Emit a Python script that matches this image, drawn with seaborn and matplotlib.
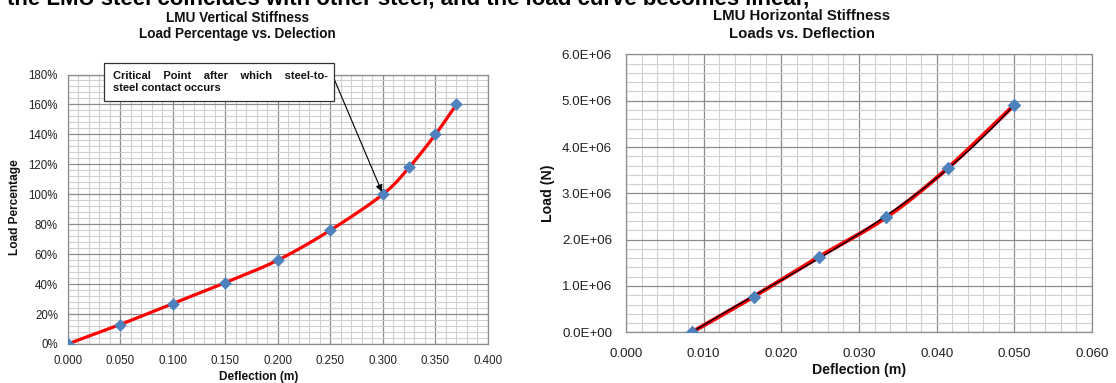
import numpy as np
import pandas as pd
import matplotlib
matplotlib.use("Agg")
import matplotlib.pyplot as plt
from matplotlib.ticker import MultipleLocator, PercentFormatter, FormatStrFormatter
import seaborn as sns

# Vertical stiffness: deflection (m) vs load percentage (%)
vert_deflection = [0.000, 0.050, 0.100, 0.150, 0.200, 0.250, 0.300, 0.325, 0.350, 0.370]
vert_load_pct = [0, 13, 27, 41, 56, 76, 100, 118, 140, 160]

# Horizontal stiffness: deflection (m) vs load (N)
horiz_deflection = [0.00845, 0.01643, 0.02488, 0.03346, 0.04140, 0.05000]
horiz_load = [0.0, 0.77e6, 1.63e6, 2.48e6, 3.54e6, 4.91e6]

title_left = ["LMU Vertical Stiffness", "Load Percentage vs. Delection"]
title_right = ["LMU Horizontal Stiffness", "Loads vs. Deflection"]
note_text = "Critical    Point    after    which    steel-to-\nsteel contact occurs"
header_text = "the LMU steel coincides with other steel, and the load curve becomes linear,"

RED = "#FF0000"
BLUE = "#4F81BD"
MAJOR = "#8C8C8C"
MINOR = "#D0D0D0"


def smooth_curve(x, y, n=30):
    """Catmull-Rom style smoothing for drawing a line through points."""
    x = np.asarray(x, float)
    y = np.asarray(y, float)
    px = np.concatenate([[2 * x[0] - x[1]], x, [2 * x[-1] - x[-2]]])
    py = np.concatenate([[2 * y[0] - y[1]], y, [2 * y[-1] - y[-2]]])
    xs, ys = [], []
    t = np.linspace(0, 1, n, endpoint=False)
    for i in range(1, len(px) - 2):
        for arr, out in ((px, xs), (py, ys)):
            p0, p1, p2, p3 = arr[i - 1], arr[i], arr[i + 1], arr[i + 2]
            out.extend(0.5 * ((2 * p1) + (-p0 + p2) * t
                              + (2 * p0 - 5 * p1 + 4 * p2 - p3) * t ** 2
                              + (-p0 + 3 * p1 - 3 * p2 + p3) * t ** 3))
    xs.append(x[-1])
    ys.append(y[-1])
    return np.array(xs), np.array(ys)


sns.set_theme(style="white")
plt.rcParams["font.family"] = ["Liberation Sans", "DejaVu Sans"]

fig = plt.figure(figsize=(11.16, 3.83), dpi=100)
W, H = 1116, 383


def px_axes(left, top, right, bottom):
    return fig.add_axes([left / W, 1 - bottom / H, (right - left) / W, (bottom - top) / H])


def style_grid(ax):
    ax.grid(which="major", color=MAJOR, linewidth=0.9)
    ax.grid(which="minor", color=MINOR, linewidth=0.8)
    ax.set_axisbelow(True)
    for s in ax.spines.values():
        s.set_color(MAJOR)
        s.set_linewidth(0.9)
    ax.tick_params(which="both", length=0)


# ---------------- left chart ----------------
axL = px_axes(67.7, 74.5, 488, 344)
dfL = pd.DataFrame({"x": vert_deflection, "y": vert_load_pct})
sx, sy = smooth_curve(dfL["x"], dfL["y"])
sns.lineplot(x=sx, y=sy, ax=axL, color=RED, linewidth=2.3, sort=False, estimator=None, zorder=3)
sns.scatterplot(data=dfL, x="x", y="y", ax=axL, marker="D", s=42, color=BLUE,
                edgecolor=BLUE, linewidth=0, zorder=4)
axL.set_xlim(0, 0.4)
axL.set_ylim(0, 180)
axL.xaxis.set_major_locator(MultipleLocator(0.05))
axL.xaxis.set_minor_locator(MultipleLocator(0.01))
axL.yaxis.set_major_locator(MultipleLocator(20))
axL.yaxis.set_minor_locator(MultipleLocator(4))
axL.xaxis.set_major_formatter(FormatStrFormatter("%.3f"))
axL.yaxis.set_major_formatter(PercentFormatter(100, decimals=0))
style_grid(axL)
axL.tick_params(axis="x", labelsize=8.3, pad=8, colors="#222222")
axL.tick_params(axis="y", labelsize=8.3, pad=7, colors="#222222")
axL.set_xlabel("")
axL.set_ylabel("")

fig.text(259 / W, 1 - 377 / H, "Deflection (m)", ha="center", va="center",
         fontsize=8.6, fontweight="bold", color="#111111")
fig.text(15 / W, 1 - 207 / H, "Load Percentage", ha="center", va="center",
         rotation=90, fontsize=8.6, fontweight="bold", color="#111111")
fig.text(237 / W, 1 - 17.5 / H, title_left[0], ha="center", va="center",
         fontsize=9.8, fontweight="bold", color="#111111")
fig.text(237 / W, 1 - 34 / H, title_left[1], ha="center", va="center",
         fontsize=9.8, fontweight="bold", color="#111111")

# callout for the critical point
axL.annotate("", xy=(0.300, 100), xycoords="data",
             xytext=(332 / W, 1 - 74 / H), textcoords="figure fraction",
             arrowprops=dict(arrowstyle="-|>", color="black", lw=0.8,
                             mutation_scale=10, shrinkA=0, shrinkB=2),
             zorder=6)
box = plt.Rectangle((104 / W, 1 - 101 / H), (334 - 104) / W, (101 - 63) / H,
                    transform=fig.transFigure, facecolor="white",
                    edgecolor="#333333", linewidth=0.9, zorder=5)
fig.add_artist(box)
fig.text(113 / W, 1 - 82 / H, note_text, ha="left", va="center",
         fontsize=8.0, fontweight="bold", color="#111111", linespacing=1.15,
         zorder=7)

# ---------------- right chart ----------------
axR = px_axes(626, 54.4, 1092, 332.3)
dfR = pd.DataFrame({"x": horiz_deflection, "y": horiz_load})
coef = np.polyfit(dfR["x"], dfR["y"], 3)
tx = np.linspace(dfR["x"].min(), dfR["x"].max(), 100)
ty = np.polyval(coef, tx)
rx, ry = smooth_curve(dfR["x"], dfR["y"])
sns.lineplot(x=rx, y=ry, ax=axR, color=RED, linewidth=3.0, sort=False, estimator=None, zorder=3)
sns.lineplot(x=tx, y=ty, ax=axR, color="black", linewidth=1.0, sort=False, estimator=None, zorder=4)
sns.scatterplot(data=dfR, x="x", y="y", ax=axR, marker="D", s=48, color=BLUE,
                edgecolor=BLUE, linewidth=0, zorder=5)
axR.set_xlim(0, 0.06)
axR.set_ylim(0, 6e6)
axR.xaxis.set_major_locator(MultipleLocator(0.01))
axR.xaxis.set_minor_locator(MultipleLocator(0.002))
axR.yaxis.set_major_locator(MultipleLocator(1e6))
axR.yaxis.set_minor_locator(MultipleLocator(2e5))
axR.xaxis.set_major_formatter(FormatStrFormatter("%.3f"))
axR.yaxis.set_major_formatter(FormatStrFormatter("%.1E"))
style_grid(axR)
axR.tick_params(axis="x", labelsize=9.6, pad=11, colors="#222222")
axR.tick_params(axis="y", labelsize=9.6, pad=10, colors="#222222")
axR.set_xlabel("")
axR.set_ylabel("")

fig.text(859 / W, 1 - 370 / H, "Deflection (m)", ha="center", va="center",
         fontsize=10.2, fontweight="bold", color="#111111")
fig.text(548 / W, 1 - 193 / H, "Load (N)", ha="center", va="center",
         rotation=90, fontsize=10.2, fontweight="bold", color="#111111")
fig.text(802 / W, 1 - 16 / H, title_right[0], ha="center", va="center",
         fontsize=10.8, fontweight="bold", color="#111111")
fig.text(802 / W, 1 - 33.5 / H, title_right[1], ha="center", va="center",
         fontsize=10.8, fontweight="bold", color="#111111")

# running text of the page above the charts, cut by the top edge
fig.text(7 / W, 1 - 5 / H, header_text, ha="left", va="baseline",
         fontsize=16, fontweight="bold", color="#000000")

fig.savefig("out.png", dpi=100)
